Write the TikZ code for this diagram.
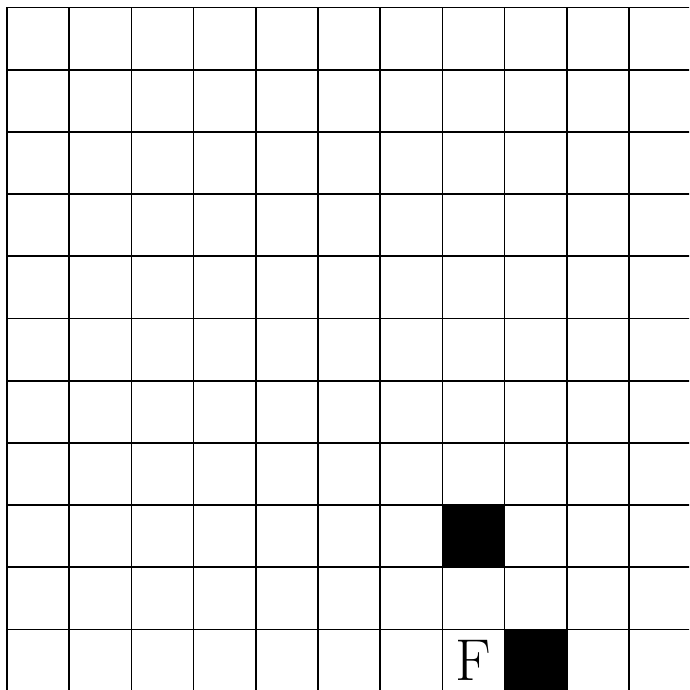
\documentclass[tikz,border=0pt]{standalone}
\usetikzlibrary{positioning}
\tikzset{
  gridline/.style={draw=black, line width=.8pt},
  wall/.style={draw=black, line width=.8pt, fill=black, minimum size=1cm, inner sep=0pt},
  goal/.style={font=\fontsize{27}{30}\selectfont, inner sep=0pt},
}
\begin{document}
\begin{tikzpicture}
  \useasboundingbox (-0.1125,0.027) rectangle (10.965,11.12);
  \begin{scope}
    \clip (-0.1125,0.027) rectangle (10.965,11.12);
    % board, cut at the right and bottom
    \draw[gridline] (0,-1) grid (12,11);
    \node[wall] (wallA) at (7.5,2.5) {};
    \node[wall] (wallB) at (8.5,0.5) {};
    \node[goal] (goal) at (7.5,0.5) {F};
  \end{scope}
\end{tikzpicture}
\end{document}
